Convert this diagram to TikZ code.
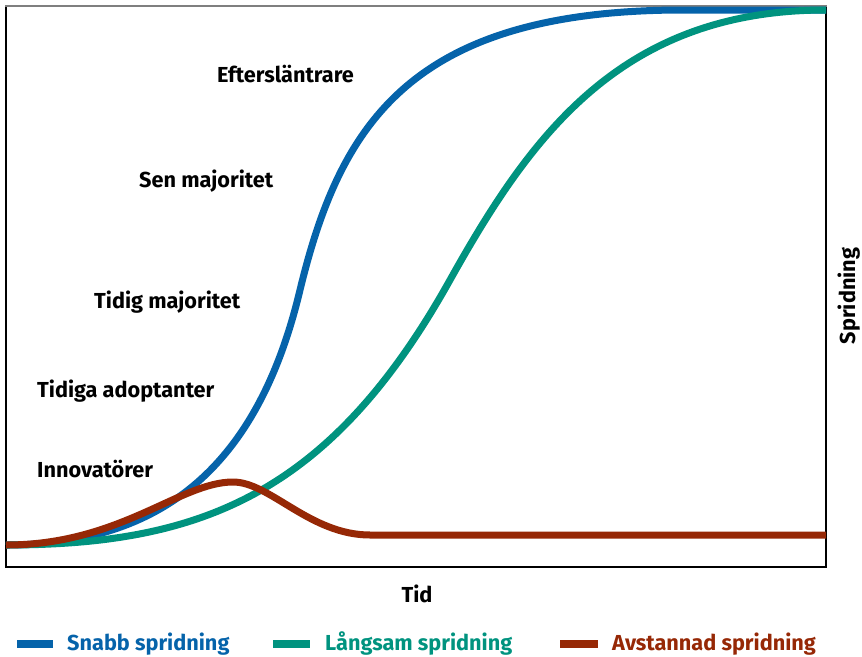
\documentclass[tikz,border=0pt]{standalone}
\usepackage{fontspec}
\setmainfont{Fira Sans}
\definecolor{snabb}{HTML}{0563AA}
\definecolor{langsam}{HTML}{00937F}
\definecolor{avstannad}{HTML}{962806}
\definecolor{ram}{HTML}{7F7F7F}
\tikzset{
  curve/.style={line width=7pt, line join=round},
  legline/.style={line width=8pt},
  phase/.style={font=\bfseries\fontsize{21.7}{24}\selectfont, anchor=base west, inner sep=0pt},
  legtext/.style={font=\bfseries\fontsize{21.7}{24}\selectfont, anchor=base west, inner sep=0pt}
}
\begin{document}
\begin{tikzpicture}[x=1pt, y=-1pt]
  \useasboundingbox (0,0) rectangle (862,656);
  \draw[line width=1.5pt] (6,6) -- (6,567) -- (826,567) -- (826,6);
  \draw[ram, line width=2.5pt] (5,6) -- (827,6);

  \coordinate (start) at (6,545);
  \coordinate (bmid) at (300,290);
  \coordinate (gmid) at (450,280);
  \coordinate (peak) at (233,482);
  \coordinate (flat) at (370,535);
  \coordinate (bend) at (826,535);
  \coordinate (top) at (826,10);

  \draw[curve, snabb] (start) .. controls (150,545) and (255,479) .. (bmid)
    .. controls (340,125) and (410,11) .. (680,10) -- (top);
  \draw[curve, langsam] (start) .. controls (200,545) and (330,495) .. (gmid)
    .. controls (530,137) and (620,10) .. (top);
  \draw[curve, avstannad] (start) .. controls (120,545) and (180,482) .. (peak)
    .. controls (270,482) and (310,535) .. (flat) -- (bend);

  \node[phase] (eft) at (217,82) {Eftersläntrare};
  \node[phase] (sen) at (139,187) {Sen majoritet};
  \node[phase] (tidig) at (94,308) {Tidig majoritet};
  \node[phase] (adopt) at (37,397) {Tidiga adoptanter};
  \node[phase] (innov) at (37,477) {Innovatörer};

  \node[phase, anchor=base] (tid) at (417,602) {Tid};
  \node[phase, anchor=base, rotate=90] (sprid) at (855,296) {Spridning};

  \node[legtext, snabb] (lsnabb) at (67,650) {Snabb spridning};
  \node[legtext, langsam] (llangsam) at (325,650) {Långsam spridning};
  \node[legtext, avstannad] (lavst) at (612,650) {Avstannad spridning};
  \draw[legline, snabb] (17,644) -- (53,644);
  \draw[legline, langsam] (273,644) -- (310,644);
  \draw[legline, avstannad] (560,644) -- (598,644);
\end{tikzpicture}
\end{document}
